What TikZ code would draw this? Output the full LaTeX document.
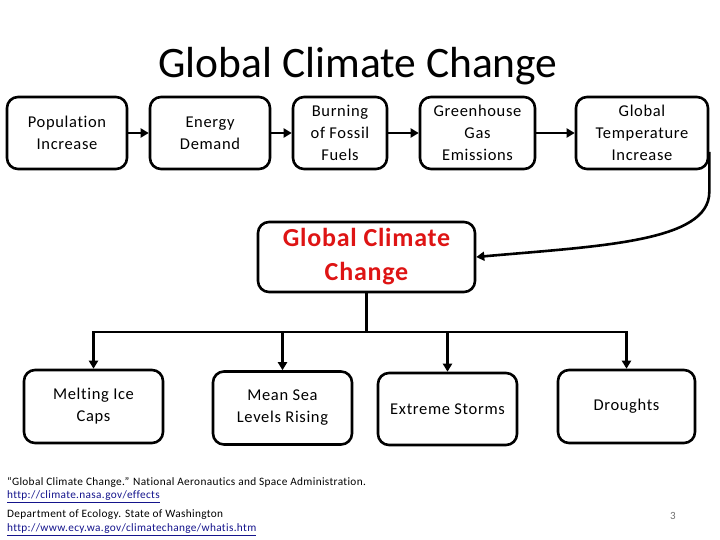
\documentclass[tikz,border=0pt]{standalone}
\usepackage{fontspec}
\setmainfont{Carlito}[Ligatures={NoCommon}]
\usetikzlibrary{arrows.meta}
\definecolor{gccred}{RGB}{222,20,20}
\definecolor{linkblue}{RGB}{20,20,140}
\definecolor{pggray}{RGB}{110,110,110}
\newfontfamily\boxfont{Carlito}[Ligatures={NoCommon},LetterSpace=4]
\newfontfamily\footfont{Carlito}[Ligatures={NoCommon},LetterSpace=3]
\newfontfamily\gccfont{Carlito}[Ligatures={NoCommon},LetterSpace=3]
\tikzset{
  box/.style={draw=black, line width=2.6pt, rounded corners=11pt, align=center,
    inner sep=0pt, font=\boxfont\fontsize{16.5}{22}\selectfont},
  arr/.style={line width=2.6pt, -{Triangle[length=8pt,width=9pt]}},
  conn/.style={line width=2.6pt},
  foot/.style={anchor=base west, inner sep=0pt, font=\footfont\fontsize{11.3}{12}\selectfont},
}
\begin{document}
\begin{tikzpicture}[x=1pt,y=-1pt]
\useasboundingbox (0,0) rectangle (720,540);
\node[anchor=base, inner sep=0pt, font=\fontsize{43.5}{48}\selectfont] (title) at (358,78) {Global Climate Change};
% top row
\node[box, minimum width=120pt, minimum height=72pt] (pop) at (67,133) {Population\\Increase};
\node[box, minimum width=120pt, minimum height=72pt] (energy) at (210,133) {Energy\\Demand};
\node[box, minimum width=94pt, minimum height=72pt] (burn) at (340,133) {Burning\\of Fossil\\Fuels};
\node[box, minimum width=115pt, minimum height=72pt] (ghg) at (477.5,133) {Greenhouse\\Gas\\Emissions};
\node[box, minimum width=132pt, minimum height=72pt] (temp) at (642,133) {Global\\Temperature\\Increase};
% middle
\node[box, minimum width=217pt, minimum height=70pt, text=gccred,
  font=\gccfont\fontsize{26}{34}\selectfont\bfseries] (gcc) at (366.5,257) {Global Climate\\Change};
% bottom row
\node[box, minimum width=139pt, minimum height=73pt] (melt) at (93.5,406.5) {Melting Ice\\Caps};
\node[box, minimum width=139pt, minimum height=73pt] (sea) at (282.5,408) {Mean Sea\\Levels Rising};
\node[box, minimum width=139pt, minimum height=72pt] (storm) at (447.5,409) {Extreme Storms};
\node[box, minimum width=137pt, minimum height=73pt] (drought) at (626.5,406.5) {Droughts};
% top arrows
\draw[arr] (pop) -- (energy);
\draw[arr] (energy) -- (burn);
\draw[arr] (burn) -- (ghg);
\draw[arr] (ghg) -- (temp);
% curved connector
\draw[arr] ([yshift=-19pt]temp.east) -- ++(0,40)
  .. controls +(0,50) and (600,246) .. (gcc.east);
% tree
\coordinate (bus) at (gcc.south |- 0,332);
\draw[conn] (gcc.south) -- (bus);
\draw[arr] (bus) -| (melt.north);
\draw[arr] (bus) -| (sea.north);
\draw[arr] (bus) -| (storm.north);
\draw[arr] (bus) -| (drought.north);
% footer
\node[foot] (f1) at (7,485) {“Global Climate Change.” National Aeronautics and Space Administration.};
\node[foot, text=linkblue] (f2) at (7,498.5) {\underline{http://climate.nasa.gov/effects}};
\node[foot] (f3) at (7,517) {Department of Ecology. State of Washington};
\node[foot, text=linkblue] (f4) at (7,531.5) {\underline{http://www.ecy.wa.gov/climatechange/whatis.htm}};
\node[anchor=base, inner sep=0pt, text=pggray, font=\fontsize{11}{12}\selectfont] (pg) at (673,519) {3};
\end{tikzpicture}
\end{document}
